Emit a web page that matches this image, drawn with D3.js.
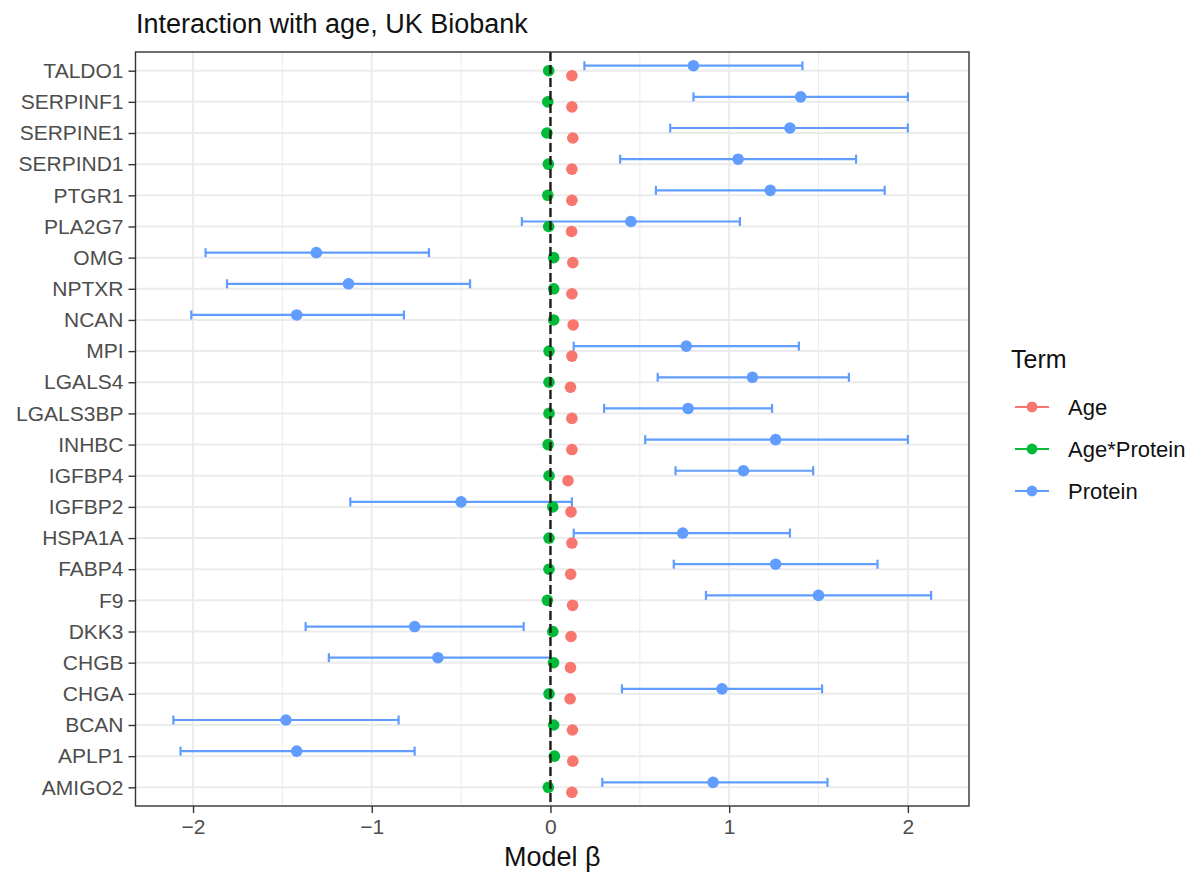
<!DOCTYPE html>
<html>
<head>
<meta charset="utf-8">
<script src="https://cdnjs.cloudflare.com/ajax/libs/d3/7.8.5/d3.min.js"></script>
<style>
body{margin:0;background:#fff;}
svg{display:block;font-family:"Liberation Sans",Arial,Helvetica,sans-serif;}
</style>
</head>
<body>
<svg class="chart"></svg>
<script>
// genes, top to bottom
const genes=["TALDO1","SERPINF1","SERPINE1","SERPIND1","PTGR1","PLA2G7","OMG","NPTXR","NCAN","MPI","LGALS4","LGALS3BP","INHBC","IGFBP4","IGFBP2","HSPA1A","FABP4","F9","DKK3","CHGB","CHGA","BCAN","APLP1","AMIGO2"];
const proteinEst=[0.80,1.40,1.34,1.05,1.23,0.45,-1.31,-1.13,-1.42,0.76,1.13,0.77,1.26,1.08,-0.50,0.74,1.26,1.50,-0.76,-0.63,0.96,-1.48,-1.42,0.91];
const proteinLo=[0.19,0.80,0.67,0.39,0.59,-0.16,-1.93,-1.81,-2.01,0.13,0.60,0.30,0.53,0.70,-1.12,0.13,0.69,0.87,-1.37,-1.24,0.40,-2.11,-2.07,0.29];
const proteinHi=[1.41,2.00,2.00,1.71,1.87,1.06,-0.68,-0.45,-0.82,1.39,1.67,1.24,2.00,1.47,0.12,1.34,1.83,2.13,-0.15,0.00,1.52,-0.85,-0.76,1.55];
const ageEst=[0.12,0.12,0.125,0.12,0.12,0.118,0.125,0.12,0.127,0.12,0.112,0.12,0.12,0.098,0.115,0.12,0.113,0.124,0.115,0.112,0.11,0.123,0.125,0.12];
const ageProtEst=[-0.01,-0.015,-0.02,-0.012,-0.015,-0.01,0.018,0.018,0.018,-0.008,-0.008,-0.008,-0.013,-0.008,0.013,-0.008,-0.008,-0.017,0.013,0.017,-0.008,0.018,0.022,-0.012];
const terms=["Age","Age*Protein","Protein"];
const termColors=["#F8766D","#00BA38","#619CFF"];
const xTicks=[-2,-1,0,1,2];
const xMinor=[-1.5,-0.5,0.5,1.5];

window.onload=function(){
	const W=1192,H=873;
	const margin={left:135.5,top:52,right:223,bottom:67};
	const width=W-margin.left-margin.right,height=H-margin.top-margin.bottom;
	const svg=d3.select(".chart").attr("width",W).attr("height",H);
	svg.append("rect").attr("width",W).attr("height",H).attr("fill","#fff");

	// long table of marks
	const rows=[];
	genes.forEach(function(g,i){
		rows.push({gene:g,term:"Age",est:ageEst[i]});
		rows.push({gene:g,term:"Age*Protein",est:ageProtEst[i]});
		rows.push({gene:g,term:"Protein",est:proteinEst[i],lo:proteinLo[i],hi:proteinHi[i]});
	});

	const lo=d3.min([...proteinLo,...ageProtEst]),hi=d3.max([...proteinHi,...ageEst]);
	const pad=(hi-lo)*0.05;
	const x=d3.scaleLinear().domain([lo-pad,hi+pad]).range([0,width]);
	const y=d3.scalePoint().domain(genes).range([0,height]).padding(0.6);
	const dodge=d3.scalePoint().domain(["Protein","Age*Protein","Age"]).range([-y.step()*0.16,y.step()*0.16]);
	const color=d3.scaleOrdinal().domain(terms).range(termColors);

	const chart=svg.append("g").attr("transform","translate("+margin.left+","+margin.top+")");

	// grid
	chart.append("g").selectAll("line").data(xMinor).enter().append("line")
		.attr("x1",d=>x(d)).attr("x2",d=>x(d)).attr("y1",0).attr("y2",height)
		.attr("stroke","#EBEBEB").attr("stroke-width",1);
	chart.append("g").selectAll("line").data(xTicks).enter().append("line")
		.attr("x1",d=>x(d)).attr("x2",d=>x(d)).attr("y1",0).attr("y2",height)
		.attr("stroke","#EBEBEB").attr("stroke-width",2);
	chart.append("g").selectAll("line").data(genes).enter().append("line")
		.attr("x1",0).attr("x2",width).attr("y1",d=>y(d)).attr("y2",d=>y(d))
		.attr("stroke","#EBEBEB").attr("stroke-width",2);

	// error bars
	const eb=rows.filter(d=>d.lo!==undefined);
	const ebG=chart.append("g").attr("stroke",color("Protein")).attr("stroke-width",2.2);
	ebG.selectAll(".bar").data(eb).enter().append("line")
		.attr("x1",d=>x(d.lo)).attr("x2",d=>x(d.hi))
		.attr("y1",d=>y(d.gene)+dodge(d.term)).attr("y2",d=>y(d.gene)+dodge(d.term));
	ebG.selectAll(".capl").data(eb).enter().append("line")
		.attr("x1",d=>x(d.lo)).attr("x2",d=>x(d.lo))
		.attr("y1",d=>y(d.gene)+dodge(d.term)-4.5).attr("y2",d=>y(d.gene)+dodge(d.term)+4.5);
	ebG.selectAll(".caph").data(eb).enter().append("line")
		.attr("x1",d=>x(d.hi)).attr("x2",d=>x(d.hi))
		.attr("y1",d=>y(d.gene)+dodge(d.term)-4.5).attr("y2",d=>y(d.gene)+dodge(d.term)+4.5);

	// points
	chart.append("g").selectAll("circle").data(rows).enter().append("circle")
		.attr("cx",d=>x(d.est)).attr("cy",d=>y(d.gene)+dodge(d.term))
		.attr("r",5.8).attr("fill",d=>color(d.term));

	// zero line
	chart.append("line")
		.attr("x1",x(0)).attr("x2",x(0)).attr("y1",0).attr("y2",height)
		.attr("stroke","#231a15").attr("stroke-width",2.4).attr("stroke-dasharray","9,4");

	// border
	chart.append("rect").attr("width",width).attr("height",height)
		.attr("fill","none").attr("stroke","#333").attr("stroke-width",1.4);

	// axes
	const yAxis=d3.axisLeft(y).tickSize(7).tickPadding(5);
	const gy=chart.append("g").call(yAxis);
	const xAxis=d3.axisBottom(x).tickValues(xTicks).tickFormat(d3.format("d")).tickSize(7).tickPadding(6);
	const gx=chart.append("g").attr("transform","translate(0,"+height+")").call(xAxis);
	[gx,gy].forEach(function(g){
		g.select(".domain").remove();
		g.selectAll(".tick line").attr("stroke","#333").attr("stroke-width",1.4);
		g.selectAll(".tick text").attr("fill","#4D4D4D").style("font-size","21px").style("font-family","Liberation Sans, Arial, sans-serif");
	});

	svg.append("text").attr("x",margin.left+width/2).attr("y",866).attr("text-anchor","middle")
		.style("font-size","27px").attr("fill","#111").text("Model β");
	svg.append("text").attr("x",136).attr("y",33)
		.style("font-size","27px").attr("fill","#111").text("Interaction with age, UK Biobank");

	// legend
	const lg=svg.append("g").attr("transform","translate(1011,0)");
	lg.append("text").attr("x",0).attr("y",368).style("font-size","25px").attr("fill","#111").text("Term");
	const keys=lg.selectAll(".key").data(terms).enter().append("g")
		.attr("transform",(d,i)=>"translate(0,"+(407+i*42)+")");
	keys.append("line").attr("x1",4).attr("x2",38).attr("stroke",d=>color(d)).attr("stroke-width",2);
	keys.append("circle").attr("cx",21).attr("r",5.4).attr("fill",d=>color(d));
	keys.append("text").attr("x",57).attr("dy","0.35em").style("font-size","22px").attr("fill","#111").text(d=>d);
};
</script>
</body>
</html>
